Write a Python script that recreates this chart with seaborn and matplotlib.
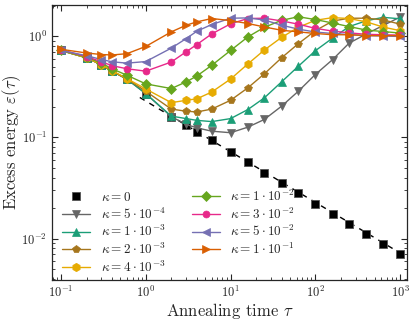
import matplotlib
matplotlib.use('Agg')
import matplotlib.pyplot as plt
import numpy as np
import seaborn as sns

# annealing times
tau = [0.1, 0.2, 0.3, 0.4, 0.6, 1, 2, 3, 4, 6, 10, 16, 25, 40, 63,
       100, 160, 250, 400, 630, 1000]

eps_k0 = [0.72, 0.61, 0.52, 0.45, 0.375, 0.27, 0.16, 0.133, 0.113, 0.0936,
          0.072, 0.0568, 0.0447, 0.0356, 0.0283, 0.0222, 0.0176, 0.0140,
          0.0111, 0.0089, 0.00697]
eps_5em4 = [0.72, 0.61, 0.52, 0.45, 0.375, 0.27, 0.16, 0.134, 0.124, 0.115,
            0.111, 0.126, 0.15, 0.203, 0.285, 0.417, 0.586, 0.85, 1.05,
            1.27, 1.54]
eps_1em3 = [0.72, 0.61, 0.52, 0.45, 0.375, 0.27, 0.162, 0.153, 0.147, 0.143,
            0.153, 0.188, 0.245, 0.353, 0.503, 0.716, 0.955, 1.24, 1.415,
            1.53, 1.48]
eps_2em3 = [0.72, 0.61, 0.52, 0.45, 0.376, 0.285, 0.19, 0.181, 0.178, 0.19,
            0.232, 0.308, 0.423, 0.61, 0.84, 1.13, 1.405, 1.50, 1.50,
            1.445, 1.31]
eps_4em3 = [0.72, 0.61, 0.523, 0.456, 0.38, 0.30, 0.22, 0.232, 0.24, 0.28,
            0.376, 0.53, 0.727, 0.97, 1.22, 1.43, 1.52, 1.49, 1.38,
            1.227, 1.13]
eps_1em2 = [0.72, 0.62, 0.54, 0.475, 0.41, 0.337, 0.303, 0.353, 0.403, 0.514,
            0.72, 0.98, 1.22, 1.43, 1.55, 1.455, 1.345, 1.24, 1.145,
            1.108, 1.07]
eps_3em2 = [0.73, 0.628, 0.557, 0.51, 0.475, 0.45, 0.554, 0.70, 0.824, 1.05,
            1.32, 1.49, 1.50, 1.41, 1.31, 1.19, 1.12, 1.075, 1.04,
            1.03, 1.02]
eps_5em2 = [0.72, 0.64, 0.586, 0.557, 0.54, 0.56, 0.76, 0.945, 1.115, 1.30,
            1.50, 1.51, 1.44, 1.28, 1.17, 1.095, 1.06, 1.035, 1.01,
            1.0, 0.99]
eps_1em1 = [0.74, 0.68, 0.657, 0.65, 0.67, 0.79, 1.10, 1.28, 1.38, 1.49,
            1.42, 1.33, 1.23, 1.14, 1.10, 1.06, 1.03, 1.03, 1.01,
            1.01, 1.01]

# tau^(-1/2) guide through the kappa=0 points
fit_amp = 0.228
fit_exp = -0.5
fit_range = [0.85, 1000]

labels = [r'$\kappa = 5\cdot 10^{-4}$', r'$\kappa = 1\cdot 10^{-3}$',
          r'$\kappa = 2\cdot 10^{-3}$', r'$\kappa = 4\cdot 10^{-3}$',
          r'$\kappa = 1\cdot 10^{-2}$', r'$\kappa = 3\cdot 10^{-2}$',
          r'$\kappa = 5\cdot 10^{-2}$', r'$\kappa = 1\cdot 10^{-1}$']
series = [eps_5em4, eps_1em3, eps_2em3, eps_4em3,
          eps_1em2, eps_3em2, eps_5em2, eps_1em1]

sns.set_style('ticks')
plt.rcParams['font.family'] = ['cmr10']
plt.rcParams['mathtext.fontset'] = 'cm'
plt.rcParams['axes.formatter.use_mathtext'] = True
plt.rcParams['axes.unicode_minus'] = False

pal = sns.color_palette('Dark2')
colors = [pal[7], pal[0], pal[6], pal[5], pal[4], pal[3], pal[2], pal[1]]
markers = ['v', '^', 'p', 'h', 'D', 'o', '<', '>']
msizes = [6, 6, 6, 6, 5, 5, 6, 6]

fig, ax = plt.subplots(figsize=(4.15, 3.2), dpi=100)
fig.subplots_adjust(left=0.125, right=0.981, bottom=0.125, top=0.984)

ax.set_xscale('log')
ax.set_yscale('log')

sns.lineplot(x=tau, y=eps_k0, ax=ax, color='k', marker='s', markersize=6,
             markeredgecolor='#555555', markeredgewidth=0.6,
             linestyle='', label=r'$\kappa = 0$')
fx = np.logspace(np.log10(fit_range[0]), np.log10(fit_range[1]), 50)
ax.plot(fx, fit_amp * fx ** fit_exp, color='k', lw=1.0, dashes=(4, 4), zorder=1.5)

for ys, lab, c, m, ms in zip(series, labels, colors, markers, msizes):
    sns.lineplot(x=tau, y=ys, ax=ax, color=c, marker=m, markersize=ms,
                 markeredgecolor=c, markeredgewidth=0.5, lw=1.0, label=lab)

ax.set_xlim(0.078, 1210)
ax.set_ylim(0.0039, 2.02)
ax.set_xlabel(r'Annealing time $\tau$', fontsize=12, labelpad=1)
ax.set_ylabel(r'Excess energy $\varepsilon(\tau)$', fontsize=12)
ax.yaxis.set_label_coords(-0.082, 0.5)

ax.tick_params(which='both', direction='in', top=True, right=True, labelsize=9)
ax.tick_params(which='major', length=4)
ax.tick_params(which='minor', length=2)
for s in ax.spines.values():
    s.set_linewidth(0.9)

ax.legend(ncol=2, loc='lower left', frameon=False, fontsize=9.5,
          handlelength=2.1, columnspacing=2.0, labelspacing=0.18,
          borderaxespad=0.0, bbox_to_anchor=(0.015, 0.0))

fig.savefig('out.png', dpi=100)
